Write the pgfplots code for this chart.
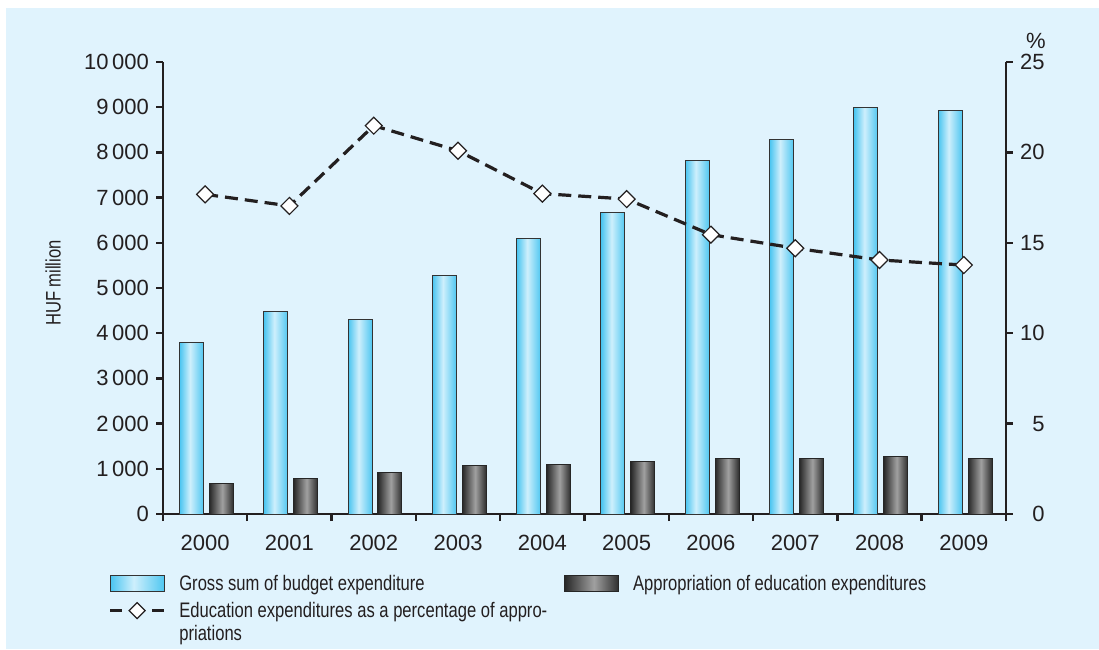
\documentclass[border=0pt]{standalone}
\usepackage{fontspec}
\setmainfont{Liberation Sans}
\newfontfamily\condensed{Liberation Sans}[FakeStretch=0.79]
\usepackage{pgfplots}
\usepackage{pgfplotstable}
\pgfplotsset{compat=1.18}

\definecolor{bgblue}{RGB}{224,243,253}
\definecolor{bA}{RGB}{72,196,240}
\definecolor{bB}{RGB}{206,239,252}
\definecolor{bC}{RGB}{80,199,241}
\definecolor{dA}{RGB}{40,40,40}
\definecolor{dB}{RGB}{160,160,160}
\definecolor{dC}{RGB}{45,45,45}
\definecolor{txt}{RGB}{35,31,32}

\pgfdeclarehorizontalshading{bluebar}{100bp}{color(0bp)=(bA); color(25bp)=(bA); color(47bp)=(bB); color(75bp)=(bC); color(100bp)=(bC)}
\pgfdeclarehorizontalshading{darkbar}{100bp}{color(0bp)=(dA); color(25bp)=(dA); color(52bp)=(dB); color(75bp)=(dC); color(100bp)=(dC)}

\pgfplotstableread{
x year pct
0 2000 17.68
1 2001 17.04
2 2002 21.48
3 2003 20.09
4 2004 17.72
5 2005 17.42
6 2006 15.45
7 2007 14.70
8 2008 14.05
9 2009 13.77
}\pcttable

\tikzset{
  bluestyle/.style={shade, shading=bluebar, draw=black!80, line width=0.5pt},
  darkstyle/.style={shade, shading=darkbar, draw=black!85, line width=0.5pt},
}
\pgfplotsset{
  gb/.style={ybar, bar width=12pt, bar shift=-6.85pt, bluestyle, forget plot},
  ap/.style={ybar, bar width=12pt, bar shift=8.1pt, darkstyle, forget plot},
}

\begin{document}
\begin{tikzpicture}
\useasboundingbox (0,0) rectangle (549.5pt,324.5pt);
\fill[white] (0,0) rectangle (549.5pt,324.5pt);
\fill[bgblue] (3pt,0) rectangle (549.5pt,320.5pt);

\begin{axis}[
  at={(81.5pt,67.5pt)}, anchor=south west,
  scale only axis, width=421.5pt, height=226pt,
  xmin=-0.5, xmax=9.5, ymin=0, ymax=10000,
  axis x line*=bottom, axis y line*=left,
  axis line style={-, line width=1.2pt, draw=txt},
  xtick={0,1,2,3,4,5,6,7,8,9},
  xticklabels={2000,2001,2002,2003,2004,2005,2006,2007,2008,2009},
  xticklabel style={yshift=-3.5pt},
  major x tick style={draw=none},
  minor xtick={-0.5,0.5,...,9.5},
  ytick={0,1000,...,10000},
  tick align=outside, major tick length=3.5pt, minor tick length=3.5pt,
  tick style={line width=1.2pt, draw=txt},
  scaled y ticks=false,
  /pgf/number format/assume math mode=true,
  yticklabel style={/pgf/number format/1000 sep={\,}},
  tick label style={font=\fontsize{11}{12}\selectfont, text=txt},
  ylabel={HUF million},
  ylabel style={font=\condensed\fontsize{10.5}{12}\selectfont, text=txt, at={(axis description cs:-0.1305,0.511)}, anchor=center},
  legend columns=2,
  legend style={at={(axis description cs:-0.0652,-0.1343)}, anchor=north west,
    draw=none, fill=none, inner sep=0pt, row sep=4pt,
    font=\condensed\fontsize{10.5}{11.65}\selectfont, text=txt,
    cells={anchor=base west}, nodes={inner sep=0pt},
    /tikz/every odd column/.append style={column sep=6.85pt},
    /tikz/every even column/.append style={column sep=8.5pt}},
]
% Gross sum of budget expenditure (HUF million)
\addplot[gb] coordinates {(0,3790)};
\addplot[gb] coordinates {(1,4476)};
\addplot[gb] coordinates {(2,4307)};
\addplot[gb] coordinates {(3,5272)};
\addplot[gb] coordinates {(4,6099)};
\addplot[gb] coordinates {(5,6675)};
\addplot[gb] coordinates {(6,7825)};
\addplot[gb] coordinates {(7,8296)};
\addplot[gb] coordinates {(8,8997)};
\addplot[gb] coordinates {(9,8916)};
% Appropriation of education expenditures (HUF million)
\addplot[ap] coordinates {(0,680)};
\addplot[ap] coordinates {(1,781)};
\addplot[ap] coordinates {(2,922)};
\addplot[ap] coordinates {(3,1069)};
\addplot[ap] coordinates {(4,1106)};
\addplot[ap] coordinates {(5,1166)};
\addplot[ap] coordinates {(6,1217)};
\addplot[ap] coordinates {(7,1217)};
\addplot[ap] coordinates {(8,1283)};
\addplot[ap] coordinates {(9,1217)};

\addlegendimage{legend image code/.code={\path[bluestyle] (0pt,-0.8pt) rectangle (27pt,7.2pt);}}
\addlegendentry{Gross sum of budget expenditure}
\addlegendimage{legend image code/.code={\path[darkstyle] (0pt,-0.8pt) rectangle (27pt,7.2pt);}}
\addlegendentry{Appropriation of education expenditures}
\addlegendimage{legend image code/.code={
  \draw[txt, line width=1.6pt] (0pt,3.5pt) -- (6pt,3.5pt);
  \draw[txt, line width=1.6pt] (21pt,3.5pt) -- (27pt,3.5pt);
  \draw[txt, fill=white, line width=0.6pt] (13.5pt,7.5pt) -- (17.5pt,3.5pt) -- (13.5pt,-0.5pt) -- (9.5pt,3.5pt) -- cycle;}}
\addlegendentry{\begin{tabular}[t]{@{}l@{}}Education expenditures as a percentage of appro-\\priations\end{tabular}}
\end{axis}

\begin{axis}[
  at={(81.5pt,67.5pt)}, anchor=south west,
  scale only axis, width=421.5pt, height=226pt,
  xmin=-0.5, xmax=9.5, ymin=0, ymax=25,
  axis y line*=right, axis x line=none,
  axis line style={-, line width=1.2pt, draw=txt},
  ytick={0,5,...,25},
  tick align=outside, major tick length=3.5pt,
  tick style={line width=1.2pt, draw=txt},
  /pgf/number format/assume math mode=true,
  tick label style={font=\fontsize{11}{12}\selectfont, text=txt},
  yticklabel style={text width=12.3pt, align=right, inner ysep=0pt},
  every axis y label/.style={at={(axis description cs:1.0356,1.047)}, anchor=center},
  ylabel={\%},
  ylabel style={font=\fontsize{11}{12}\selectfont, text=txt, inner sep=0pt},
]
\addplot[txt, line width=1.6pt, dash pattern=on 6.5pt off 3.5pt,
  mark=square*, mark size=3pt,
  mark options={solid, fill=white, draw=txt, line width=0.6pt, rotate=45}]
  table[x=x, y=pct] {\pcttable};
\end{axis}
\end{tikzpicture}
\end{document}
